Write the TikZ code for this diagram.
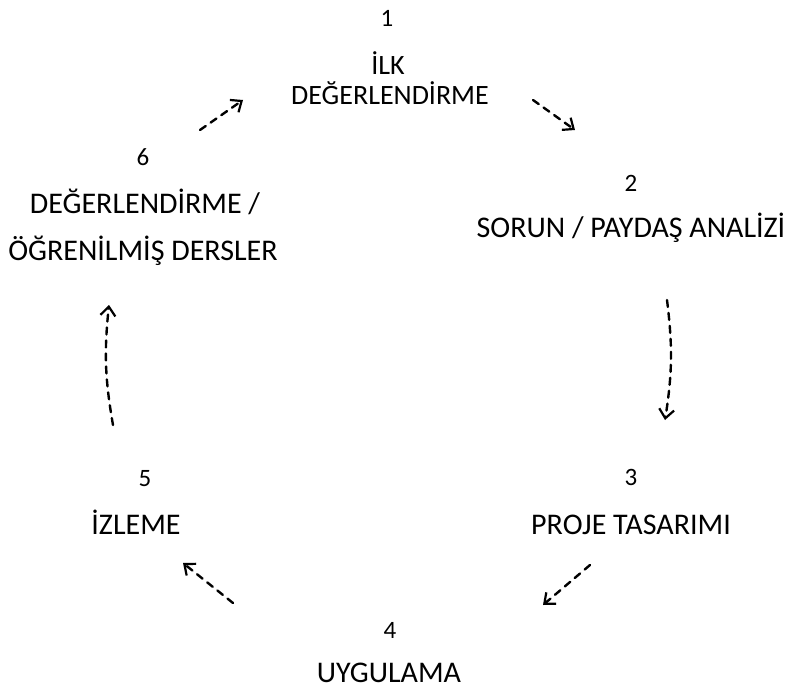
\documentclass[tikz,border=0pt]{standalone}
\usepackage{fontspec}
\setmainfont{Carlito}
\usetikzlibrary{arrows.meta}

\begin{document}
\begin{tikzpicture}[x=1pt, y=-1pt, >={Straight Barb[length=9pt,width=15pt,line width=2.2pt]},
    num/.style={anchor=base, inner sep=0pt, font=\fontsize{25}{26}\selectfont},
    lbl/.style={anchor=base, inner sep=0pt, font=\fontsize{30}{31}\selectfont},
    lblsmall/.style={lbl, font=\fontsize{28}{29}\selectfont},
    flow/.style={->, dash pattern=on 7pt off 6pt, line width=2.4pt, line cap=round}]
                \useasboundingbox (0,0) rectangle (790,690);

                \node[num] (n1) at (387,27) {1};
                \node[lblsmall] (t1a) at (388,75) {İLK};
                \node[lblsmall] (t1b) at (390,105) {DEĞERLENDİRME};

                \node[num] (n2) at (631,191) {2};
                \node[lbl] (t2) at (631,237) {SORUN / PAYDAŞ ANALİZİ};

                \node[num] (n3) at (631,485) {3};
                \node[lbl] (t3) at (631,534) {PROJE TASARIMI};

                \node[num] (n4) at (390,638) {4};
                \node[lbl] (t4) at (389,682) {UYGULAMA};

                \node[num] (n5) at (145,486) {5};
                \node[lbl] (t5) at (136,534) {İZLEME};

                \node[num] (n6) at (143,166) {6};
                \node[lbl] (t6a) at (145,213) {DEĞERLENDİRME /};
                \node[lbl] (t6b) at (143,260) {ÖĞRENİLMİŞ DERSLER};

                \coordinate (p1) at (200,130);
                \coordinate (q1) at (243,100);
                \coordinate (p2) at (533,100);
                \coordinate (q2) at (575,130);
                \coordinate (p3) at (667,300);
                \coordinate (q3) at (665,420);
                \coordinate (p4) at (590,565);
                \coordinate (q4) at (543,605);
                \coordinate (p5) at (233,603);
                \coordinate (q5) at (183,563);
                \coordinate (p6) at (113,425);
                \coordinate (q6) at (109,305);

                \draw[flow] (p1) -- (q1);
                \draw[flow] (p2) -- (q2);
                \draw[flow] (p3) to[bend left=8] (q3);
                \draw[flow] (p4) -- (q4);
                \draw[flow] (p5) -- (q5);
                \draw[flow] (p6) to[bend left=8] (q6);
            \end{tikzpicture}
\end{document}
